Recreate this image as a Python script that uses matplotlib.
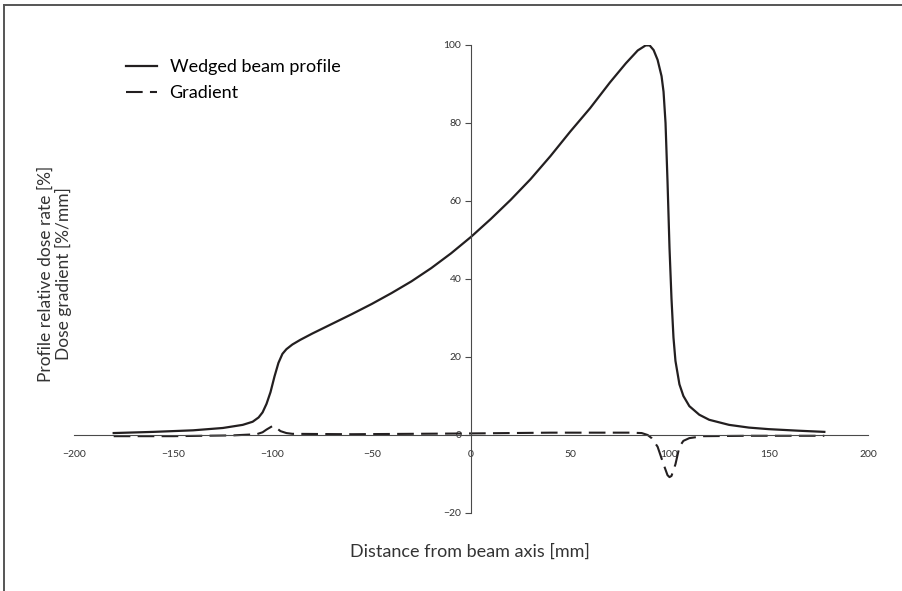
import matplotlib.pyplot as plt
from matplotlib.lines import Line2D

plt.rcParams['font.family'] = ['Lato', 'DejaVu Sans']

# Wedged beam profile
profile_x = [-180, -160, -140, -125, -115, -110, -107, -105, -103, -101, -99, -97, -95, -93,
             -90, -86, -80, -70, -60, -50, -40, -30, -20, -10, 0, 10, 20, 30, 40, 50, 60,
             70, 78, 84, 88, 90, 92, 94, 96, 97, 98, 99, 100, 101, 102, 103, 105, 107,
             110, 115, 120, 130, 140, 150, 165, 178]
profile_y = [0.5, 0.8, 1.2, 1.8, 2.6, 3.4, 4.5, 5.8, 8.0, 11.0, 15.0, 18.5, 20.8, 22.0,
             23.2, 24.4, 26.0, 28.5, 31.0, 33.6, 36.4, 39.4, 42.8, 46.6, 50.8, 55.4, 60.3,
             65.6, 71.5, 77.8, 83.8, 90.4, 95.3, 98.6, 99.9, 99.9, 98.7, 96.2, 92.0, 88.0,
             80.0, 65.0, 48.0, 35.0, 25.0, 19.0, 13.0, 10.0, 7.4, 5.2, 3.9, 2.6, 1.9, 1.5,
             1.1, 0.8]

# Dose gradient
grad_x = [-180, -150, -120, -108, -105, -103, -100, -98, -96, -93, -90, -60, -30, 0, 20,
          40, 60, 80, 86, 89, 91, 94, 97, 99, 100, 101, 103, 105, 107, 110, 117, 140, 178]
grad_y = [-0.3, -0.3, -0.1, 0.2, 0.7, 1.4, 2.3, 1.8, 1.0, 0.5, 0.3, 0.2, 0.3, 0.4, 0.5,
          0.6, 0.6, 0.6, 0.5, 0.0, -0.8, -3.0, -7.5, -10.3, -10.8, -10.5, -7.5, -3.0,
          -1.5, -0.8, -0.3, -0.2, -0.2]

x_ticks = [-200, -150, -100, -50, 0, 50, 100, 150, 200]
y_ticks = [-20, 0, 20, 40, 60, 80, 100]

ink = '#231f20'
axis_col = '#4a4a4a'

fig = plt.figure(figsize=(9.02, 5.91), dpi=100)
ax = fig.add_axes([74 / 902, 78 / 591, 794 / 902, 468 / 591])

ax.plot(profile_x, profile_y, color=ink, lw=1.6, label='Wedged beam profile')
ax.plot(grad_x, grad_y, color=ink, lw=1.5, dashes=(8, 3.5), label='Gradient')

ax.set_xlim(-200, 200)
ax.set_ylim(-20, 100)
ax.spines['left'].set_position(('data', 0))
ax.spines['bottom'].set_position(('data', 0))
ax.spines['top'].set_visible(False)
ax.spines['right'].set_visible(False)
for s in ('left', 'bottom'):
    ax.spines[s].set_color(axis_col)
    ax.spines[s].set_linewidth(0.8)

ax.set_xticks(x_ticks)
ax.set_yticks(y_ticks)
ax.tick_params(axis='both', labelsize=7.5, color=axis_col, width=0.8, labelcolor='#333333')
ax.tick_params(axis='y', direction='out', length=4, pad=3)
ax.tick_params(axis='x', direction='out', length=0, pad=11)

ax.legend(loc='upper left', bbox_to_anchor=(36 / 794, 1 + 2 / 468), frameon=False,
          fontsize=13, handlelength=1.7, handletextpad=0.7, labelspacing=0.55)

fig.text(470 / 902, 1 - 552 / 591, 'Distance from beam axis [mm]', ha='center', va='center',
         fontsize=13, color='#333333')
fig.text(55 / 902, 1 - 274 / 591, 'Profile relative dose rate [%]\nDose gradient [%/mm]',
         ha='center', va='center', rotation=90, fontsize=12.5, color='#333333',
         multialignment='center', linespacing=1.1)

# partial frame round the figure
fig.add_artist(Line2D([3.5 / 902, 3.5 / 902], [0, 1 - 4.5 / 591], color='#555555', lw=1.4))
fig.add_artist(Line2D([3.5 / 902, 1], [1 - 4.5 / 591, 1 - 4.5 / 591], color='#555555', lw=1.4))

fig.savefig('out.png', dpi=100)
